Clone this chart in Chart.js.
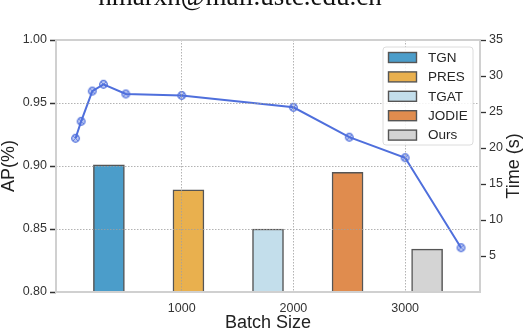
<!DOCTYPE html>
<html>
<head>
<meta charset="utf-8">
<script src="https://cdn.jsdelivr.net/npm/chart.js@4.4.0/dist/chart.umd.min.js"></script>
<style>
  html, body { margin: 0; padding: 0; background: #fff; }
</style>
</head>
<body>
<canvas id="apTimeChart" width="526" height="332"></canvas>
<script>
// 배치 크기별 학습 시간 (꺾은선, 오른쪽 축)
var batchSizes = [50, 100, 200, 300, 500, 1000, 2000, 2500, 3000, 3500];
var timeSec = [21.35, 23.7, 27.9, 28.85, 27.5, 27.3, 25.65, 21.5, 18.65, 6.15];

// 모델별 AP (막대, 왼쪽 축)
var models = ['TGN', 'PRES', 'TGAT', 'JODIE', 'Ours'];
var apValues = [0.901, 0.881, 0.850, 0.895, 0.834];
var modelColors = ['#4b9dca', '#e9b04e', '#c3deeb', '#e08c4e', '#d4d4d4'];

// 눈금
var apTicks = [0.80, 0.85, 0.90, 0.95, 1.00];
var timeTicks = [5, 10, 15, 20, 25, 30, 35];
var batchTicks = [1000, 2000, 3000];

var headerText = 'hmarxn@mail.ustc.edu.cn';

var lineBlue = '#4f6fdc';
var tickFont = { family: 'Arial, "Liberation Sans", sans-serif', size: 12.5 };
var titleFont = { family: 'Arial, "Liberation Sans", sans-serif', size: 18, lineHeight: 1.05 };

Chart.defaults.font.family = 'Arial, "Liberation Sans", sans-serif';
Chart.defaults.color = '#333';

// 원 + X 마커
function makeMarker() {
    var c = document.createElement('canvas');
    c.width = 11; c.height = 11;
    var g = c.getContext('2d');
    g.beginPath();
    g.arc(5.5, 5.5, 3.8, 0, Math.PI * 2);
    g.fillStyle = 'rgba(79, 111, 220, 0.35)';
    g.fill();
    g.lineWidth = 1.2;
    g.strokeStyle = lineBlue;
    g.stroke();
    g.beginPath();
    g.moveTo(3, 3); g.lineTo(8, 8);
    g.moveTo(8, 3); g.lineTo(3, 8);
    g.lineWidth = 0.9;
    g.stroke();
    return c;
}

// 테두리, 범례, 오른쪽 축 제목, 상단 텍스트
var decorPlugin = {
    id: 'decor',
    afterDraw: function(chart) {
        var ctx = chart.ctx;
        var a = chart.chartArea;
        ctx.save();

        // 네 방향 테두리
        ctx.strokeStyle = '#d0d0d0';
        ctx.lineWidth = 2;
        ctx.strokeRect(a.left, a.top, a.right - a.left, a.bottom - a.top);

        // 범례
        var lx = 383, ly = 47, lw = 90, lh = 98;
        ctx.beginPath();
        ctx.roundRect(lx, ly, lw, lh, 3);
        ctx.fillStyle = 'rgba(255,255,255,0.85)';
        ctx.fill();
        ctx.strokeStyle = '#dcdcdc';
        ctx.lineWidth = 1;
        ctx.stroke();
        ctx.font = '13.5px Arial, "Liberation Sans", sans-serif';
        ctx.textBaseline = 'middle';
        ctx.textAlign = 'left';
        models.forEach(function(m, i) {
            var cy = 57.5 + i * 19.4;
            ctx.fillStyle = modelColors[i];
            ctx.fillRect(388.5, cy - 5, 28, 10);
            ctx.strokeStyle = '#555';
            ctx.lineWidth = 1.4;
            ctx.strokeRect(388.5, cy - 5, 28, 10);
            ctx.fillStyle = '#262626';
            ctx.fillText(m, 428, cy + 0.5);
        });

        // 오른쪽 축 제목
        ctx.translate(514, (a.top + a.bottom) / 2);
        ctx.rotate(-Math.PI / 2);
        ctx.font = '18px Arial, "Liberation Sans", sans-serif';
        ctx.fillStyle = '#222';
        ctx.textAlign = 'center';
        ctx.textBaseline = 'middle';
        ctx.fillText('Time (s)', 0, 0);
        ctx.restore();

        // 상단 잘린 텍스트
        ctx.save();
        ctx.font = '27px "Liberation Serif", "Times New Roman", serif';
        ctx.fillStyle = '#111';
        ctx.textAlign = 'center';
        ctx.textBaseline = 'alphabetic';
        ctx.fillText(headerText, 240, 5);
        ctx.restore();
    }
};

var datasets = [{
    type: 'line',
    label: 'Time',
    data: batchSizes.map(function(b, i) { return { x: b, y: timeSec[i] }; }),
    xAxisID: 'x',
    yAxisID: 'y1',
    borderColor: lineBlue,
    borderWidth: 2,
    pointStyle: makeMarker(),
    pointRadius: 5,
    tension: 0,
    order: 0
}];

models.forEach(function(m, i) {
    datasets.push({
        type: 'bar',
        label: m,
        data: [{ x: i, y: apValues[i] }],
        xAxisID: 'xb',
        yAxisID: 'y',
        backgroundColor: modelColors[i],
        borderColor: '#555',
        borderWidth: 1.5,
        barThickness: 31,
        grouped: false,
        order: 2
    });
});

new Chart(document.getElementById('apTimeChart').getContext('2d'), {
    type: 'bar',
    data: { datasets: datasets },
    plugins: [decorPlugin],
    options: {
        responsive: false,
        animation: false,
        layout: { padding: { top: 40, left: 0, right: 0, bottom: 0 } },
        plugins: {
            legend: { display: false },
            tooltip: { enabled: false }
        },
        scales: {
            x: {
                type: 'linear',
                position: 'bottom',
                offset: false,
                min: -125,
                max: 3670,
                afterBuildTicks: function(axis) {
                    axis.ticks = batchTicks.map(function(v) { return { value: v }; });
                },
                afterFit: function(axis) { axis.height = 40; },
                ticks: {
                    font: tickFont, color: '#333', padding: 9, maxRotation: 0,
                    callback: function(v) { return String(v); }
                },
                grid: { offset: false, color: '#a0a0a0', lineWidth: 0.8, drawTicks: false, z: 1 },
                border: { display: false, dash: [1.5, 1.5] },
                title: { display: true, text: 'Batch Size', font: titleFont, color: '#222', padding: 0 }
            },
            xb: {
                type: 'linear',
                display: false,
                offset: false,
                min: -0.665,
                max: 4.665
            },
            y: {
                type: 'linear',
                position: 'left',
                min: 0.8,
                max: 1.0,
                afterBuildTicks: function(axis) {
                    axis.ticks = apTicks.map(function(v) { return { value: v }; });
                },
                afterFit: function(axis) { axis.width = 56; },
                ticks: {
                    font: tickFont, color: '#333', padding: 3,
                    callback: function(v) { return Number(v).toFixed(2); }
                },
                grid: {
                    color: '#a0a0a0', lineWidth: 0.8, z: 1,
                    tickLength: 6, tickColor: '#333', tickWidth: 1.3, tickBorderDash: [1, 0]
                },
                border: { display: false, dash: [1.5, 1.5] },
                title: { display: true, text: 'AP(%)', font: titleFont, color: '#222', padding: 0 }
            },
            y1: {
                type: 'linear',
                position: 'right',
                min: 0,
                max: 35,
                afterBuildTicks: function(axis) {
                    axis.ticks = timeTicks.map(function(v) { return { value: v }; });
                },
                afterFit: function(axis) { axis.width = 46; },
                ticks: { font: tickFont, color: '#333', padding: 3 },
                grid: {
                    drawOnChartArea: false,
                    tickLength: 6, tickColor: '#333', tickWidth: 1.3
                },
                border: { display: false }
            }
        }
    }
});
</script>
</body>
</html>
